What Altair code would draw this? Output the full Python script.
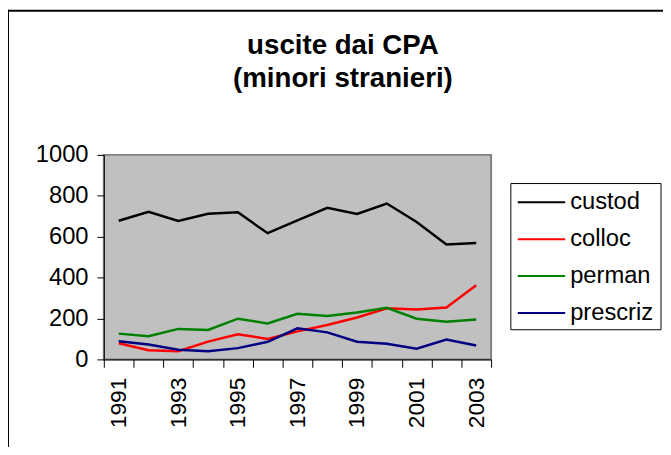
import altair as alt
import pandas as pd

years = ["1991", "1992", "1993", "1994", "1995", "1996", "1997",
         "1998", "1999", "2000", "2001", "2002", "2003"]
series = ["custod", "colloc", "perman", "prescriz"]
colors = ["#000000", "#ff0000", "#008000", "#000080"]
custod = [678, 722, 677, 712, 719, 617, 680, 741, 711, 762, 672, 562, 569]
colloc = [79, 45, 40, 87, 123, 100, 137, 168, 205, 250, 244, 254, 362]
perman = [126, 113, 149, 144, 199, 176, 223, 212, 229, 252, 199, 184, 195]
prescriz = [89, 73, 47, 40, 55, 86, 152, 132, 86, 76, 52, 97, 68]
title_lines = ["uscite dai CPA", "(minori stranieri)"]

rows = []
for name, vals in zip(series, [custod, colloc, perman, prescriz]):
    for y, v in zip(years, vals):
        rows.append({"year": y, "series": name, "value": v})
df = pd.DataFrame(rows)
leg_df = pd.DataFrame({"series": series})
one = alt.Data(values=[{"a": 1}])

FONT = "Liberation Sans"
color = alt.Color("series:N", scale=alt.Scale(domain=series, range=colors), legend=None)

lines = alt.Chart(df).mark_line(strokeWidth=2.5).encode(
    x=alt.X("year:O", bandPosition=0.5, title=None,
            scale=alt.Scale(type="band", paddingInner=0, paddingOuter=0),
            axis=alt.Axis(tickBand="extent", labelAngle=-90, tickSize=8,
                          labelPadding=10, labelFontSize=23, labelColor="black",
                          labelExpr="(+datum.value) % 2 == 1 ? datum.label : ''",
                          domainColor="black", tickColor="black", grid=False)),
    y=alt.Y("value:Q", title=None,
            scale=alt.Scale(domain=[0, 1000], nice=False),
            axis=alt.Axis(values=[0, 200, 400, 600, 800, 1000], tickSize=7, format="d",
                          labelPadding=9, labelFontSize=24, labelColor="black",
                          domainColor="black", tickColor="black", grid=False)),
    color=color,
    detail="series:N",
)

leg_y = alt.Y("series:N", scale=alt.Scale(type="point", domain=series, range=[48, 160], padding=0), axis=None)
leg_lines = alt.Chart(leg_df).mark_rule(strokeWidth=2).encode(
    x=alt.value(419), x2=alt.value(467), y=leg_y, color=color)
leg_text = alt.Chart(leg_df).mark_text(align="left", baseline="middle", fontSize=24, font=FONT, color="black").encode(
    x=alt.value(472), y=leg_y, text="series:N")
leg_box = alt.Chart(one).mark_rect(fill=None, stroke="black", strokeWidth=1).encode(
    x=alt.value(412), x2=alt.value(564), y=alt.value(29), y2=alt.value(177))

t1 = alt.Chart(one).mark_text(align="center", baseline="alphabetic", fontSize=28, fontWeight="bold", font=FONT, color="black").encode(
    x=alt.value(242), y=alt.value(-102), text=alt.value(title_lines[0]))
t2 = alt.Chart(one).mark_text(align="center", baseline="alphabetic", fontSize=28, fontWeight="bold", font=FONT, color="black").encode(
    x=alt.value(242), y=alt.value(-69), text=alt.value(title_lines[1]))

frame_left = alt.Chart(one).mark_rule(strokeWidth=2, color="black").encode(
    x=alt.value(-97), y=alt.value(-147), y2=alt.value(300))
frame_top = alt.Chart(one).mark_rule(strokeWidth=2, color="black").encode(
    x=alt.value(-98), x2=alt.value(600), y=alt.value(-146))

chart = alt.layer(lines, leg_box, leg_lines, leg_text,
                  t1, t2, frame_left, frame_top).resolve_scale(
    y="independent"
).properties(
    width=392, height=207,
    padding={"left": 97, "top": 146, "right": 174, "bottom": 86},
    autosize=alt.AutoSizeParams(type="none"),
).configure(
    font=FONT
).configure_view(
    fill="#c0c0c0", stroke="#808080", strokeWidth=2
)

chart.save("out.html", embed_options={"renderer": "svg", "actions": False})
